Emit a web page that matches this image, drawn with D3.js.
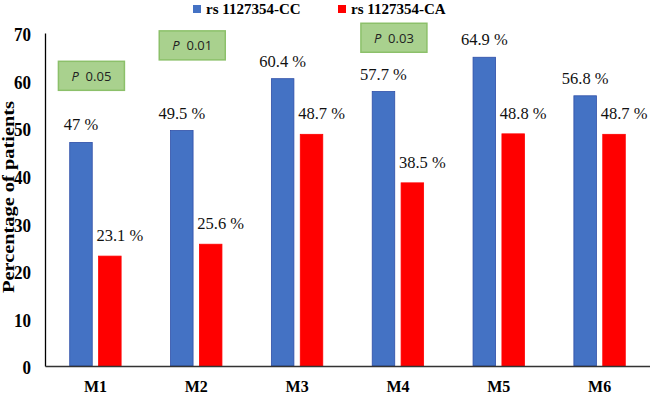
<!DOCTYPE html>
<html>
<head>
<meta charset="utf-8">
<script src="https://cdn.jsdelivr.net/npm/d3@7"></script>
<style>
  body { margin: 0; background: #fff; }
</style>
</head>
<body>
<svg id="plot" width="650" height="397"></svg>
<script>
//data
let months = ["M1", "M2", "M3", "M4", "M5", "M6"];
let series = ["rs 1127354-CC", "rs 1127354-CA"];
let cc_values = [47, 49.5, 60.4, 57.7, 64.9, 56.8];
let ca_values = [23.1, 25.6, 48.7, 38.5, 48.8, 48.7];
let cc_labels = ["47 %", "49.5 %", "60.4 %", "57.7 %", "64.9 %", "56.8 %"];
let ca_labels = ["23.1 %", "25.6 %", "48.7 %", "38.5 %", "48.8 %", "48.7 %"];
let y_ticks = [0, 10, 20, 30, 40, 50, 60, 70];

//p-value boxes: which month, where on the y scale, and the value
let p_months = ["M1", "M2", "M4"];
let p_levels = [61, 67.4, 69];
let p_texts = ["0.05", "0.01", "0.03"];

let svg = d3.select("#plot");
let serif = '"Liberation Serif", "Times New Roman", serif';

let colors = ["#4472c4", "#ff0000"];
let strokes = ["#2f4fa8", "#ff0000"];

let margin_left = 45, margin_top = 33, plot_right = 650, plot_bottom = 366;

//scales
let x_scale = d3.scaleBand(months, [margin_left, plot_right]);
let x_sub = d3.scaleBand(series, [x_scale.bandwidth() / 2 - 25.7, x_scale.bandwidth() / 2 + 25.7]).paddingInner(0.22);
let y_scale = d3.scaleLinear([0, 70], [plot_bottom, margin_top]);

//rows for the bars
let rows = [];
months.forEach((m, i) => {
    rows.push({m: m, s: 0, v: cc_values[i], lab: cc_labels[i]});
    rows.push({m: m, s: 1, v: ca_values[i], lab: ca_labels[i]});
});

//bars
svg.append("g").selectAll("rect")
.data(rows)
.join("rect")
.attr("x", d => x_scale(d.m) + x_sub(series[d.s]))
.attr("y", d => y_scale(d.v))
.attr("width", x_sub.bandwidth())
.attr("height", d => plot_bottom - y_scale(d.v))
.attr("fill", d => colors[d.s])
.attr("stroke", d => strokes[d.s])
.attr("stroke-width", 0.8);

//value labels, red ones sit a little to the right like in the original
svg.append("g").selectAll("text")
.data(rows)
.join("text")
.attr("x", d => x_scale(d.m) + x_sub(series[d.s]) + x_sub.bandwidth() / 2 + (d.s ? 10 : 0))
.attr("y", d => y_scale(d.v) - (d.s ? 15 : 12))
.attr("text-anchor", "middle")
.style("font-family", serif)
.style("font-size", "16.5px")
.attr("fill", "#111")
.text(d => d.lab);

//y axis
let yAxis = d3.axisLeft(y_scale).tickValues(y_ticks).tickSize(0).tickPadding(14);
let y_ax = svg.append("g")
.attr("transform", `translate(${margin_left},0)`)
.call(yAxis);
y_ax.select(".domain").attr("stroke", "#000").attr("stroke-width", 1.3);
y_ax.selectAll("text")
.style("font-family", serif)
.style("font-weight", "bold")
.style("font-size", "17px")
.attr("fill", "#000")
.attr("dy", "0.42em")
.attr("transform", "scale(1,1.08)");

//x axis (labels look a bit taller than wide in the original)
let xAxis = d3.axisBottom(x_scale).tickSize(0).tickPadding(12);
let x_ax = svg.append("g")
.attr("transform", `translate(0,${plot_bottom})`)
.call(xAxis);
x_ax.select(".domain").attr("stroke", "#333").attr("stroke-width", 1.3);
x_ax.selectAll("text")
.style("font-family", serif)
.style("font-weight", "bold")
.style("font-size", "16px")
.attr("fill", "#000")
.attr("transform", "scale(1,1.1)");

//y axis title
svg.append("text")
.attr("text-anchor", "middle")
.attr("transform", `translate(14,197) rotate(-90)`)
.style("font-family", serif)
.style("font-weight", "bold")
.style("font-size", "16px")
.attr("textLength", 192)
.attr("lengthAdjust", "spacingAndGlyphs")
.text("Percentage of  patients");

//p-value boxes
let box_w = 66, box_h = 29;
let pg = svg.append("g").selectAll("g")
.data(p_months.map((m, i) => ({m: m, lvl: p_levels[i], t: p_texts[i]})))
.join("g")
.attr("transform", d => `translate(${x_scale(d.m) + x_scale.bandwidth() / 2 - 4},${y_scale(d.lvl)})`);
pg.append("rect")
.attr("x", -box_w / 2)
.attr("y", -box_h / 2)
.attr("width", box_w)
.attr("height", box_h)
.attr("fill", "#a9d18e")
.attr("stroke", "#8cc06a")
.attr("stroke-width", 1.5);
let pt = pg.append("text")
.attr("text-anchor", "middle")
.attr("y", 5)
.style("font-family", '"Open Sans", "Liberation Sans", sans-serif')
.style("font-size", "13px")
.attr("fill", "#222");
pt.append("tspan").style("font-style", "italic").text("P");
pt.append("tspan").text(d => "\u00a0 " + d.t);

//legend
let legend_x = [193, 338];
let lg = svg.append("g").selectAll("g")
.data(series)
.join("g")
.attr("transform", (d, i) => `translate(${legend_x[i]},5)`);
lg.append("rect")
.attr("width", 8)
.attr("height", 8)
.attr("fill", (d, i) => colors[i]);
lg.append("text")
.attr("x", 13)
.attr("y", 9)
.style("font-family", serif)
.style("font-weight", "bold")
.style("font-size", "15px")
.text(d => d);
</script>
</body>
</html>
